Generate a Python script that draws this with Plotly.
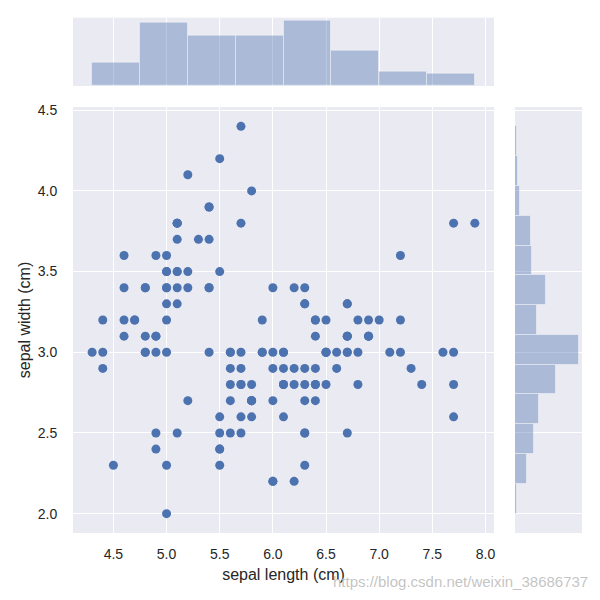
import numpy as np
import plotly.graph_objects as go

sepal_length = [
    5.1,4.9,4.7,4.6,5.0,5.4,4.6,5.0,4.4,4.9,5.4,4.8,4.8,4.3,5.8,5.7,5.4,5.1,5.7,5.1,
    5.4,5.1,4.6,5.1,4.8,5.0,5.0,5.2,5.2,4.7,4.8,5.4,5.2,5.5,4.9,5.0,5.5,4.9,4.4,5.1,
    5.0,4.5,4.4,5.0,5.1,4.8,5.1,4.6,5.3,5.0,
    7.0,6.4,6.9,5.5,6.5,5.7,6.3,4.9,6.6,5.2,5.0,5.9,6.0,6.1,5.6,6.7,5.6,5.8,6.2,5.6,
    5.9,6.1,6.3,6.1,6.4,6.6,6.8,6.7,6.0,5.7,5.5,5.5,5.8,6.0,5.4,6.0,6.7,6.3,5.6,5.5,
    5.5,6.1,5.8,5.0,5.6,5.7,5.7,6.2,5.1,5.7,
    6.3,5.8,7.1,6.3,6.5,7.6,4.9,7.3,6.7,7.2,6.5,6.4,6.8,5.7,5.8,6.4,6.5,7.7,7.7,6.0,
    6.9,5.6,7.7,6.3,6.7,7.2,6.2,6.1,6.4,7.2,7.4,7.9,6.4,6.3,6.1,7.7,6.3,6.4,6.0,6.9,
    6.7,6.9,5.8,6.8,6.7,6.7,6.3,6.5,6.2,5.9,
]
sepal_width = [
    3.5,3.0,3.2,3.1,3.6,3.9,3.4,3.4,2.9,3.1,3.7,3.4,3.0,3.0,4.0,4.4,3.9,3.5,3.8,3.8,
    3.4,3.7,3.6,3.3,3.4,3.0,3.4,3.5,3.4,3.2,3.1,3.4,4.1,4.2,3.1,3.2,3.5,3.6,3.0,3.4,
    3.5,2.3,3.2,3.5,3.8,3.0,3.8,3.2,3.7,3.3,
    3.2,3.2,3.1,2.3,2.8,2.8,3.3,2.4,2.9,2.7,2.0,3.0,2.2,2.9,2.9,3.1,3.0,2.7,2.2,2.5,
    3.2,2.8,2.5,2.8,2.9,3.0,2.8,3.0,2.9,2.6,2.4,2.4,2.7,2.7,3.0,3.4,3.1,2.3,3.0,2.5,
    2.6,3.0,2.6,2.3,2.7,3.0,2.9,2.9,2.5,2.8,
    3.3,2.7,3.0,2.9,3.0,3.0,2.5,2.9,2.5,3.6,3.2,2.7,3.0,2.5,2.8,3.2,3.0,3.8,2.6,2.2,
    3.2,2.8,2.8,2.7,3.3,3.2,2.8,3.0,2.8,3.0,2.8,3.8,2.8,2.8,2.6,3.0,3.4,3.1,3.0,3.1,
    3.1,3.1,2.7,3.2,3.3,3.0,2.5,3.0,3.4,3.0,
]
x_ticks = [4.5, 5.0, 5.5, 6.0, 6.5, 7.0, 7.5, 8.0]
y_ticks = [2.0, 2.5, 3.0, 3.5, 4.0, 4.5]
n_bins_x = 8
n_bins_y = 13

x = np.array(sepal_length)
y = np.array(sepal_width)
cx, ex = np.histogram(x, bins=n_bins_x)
cy, ey = np.histogram(y, bins=n_bins_y)

BLUE = "#4C72B0"
BG = "#EAEAF2"
TXT = "#262626"
FONT = "Liberation Sans, Arial, sans-serif"

fig = go.Figure()
fig.add_trace(go.Scatter(x=x, y=y, mode="markers",
                         marker=dict(color=BLUE, size=9, line=dict(width=0)),
                         xaxis="x", yaxis="y", showlegend=False))
fig.add_trace(go.Bar(x=(ex[:-1] + ex[1:]) / 2, y=cx, width=np.diff(ex),
                     marker=dict(color="rgba(76,114,176,0.4)",
                                 line=dict(color="rgba(255,255,255,0.4)", width=1)),
                     xaxis="x2", yaxis="y2", showlegend=False))
fig.add_trace(go.Bar(y=(ey[:-1] + ey[1:]) / 2, x=cy, width=np.diff(ey), orientation="h",
                     marker=dict(color="rgba(76,114,176,0.4)",
                                 line=dict(color="rgba(255,255,255,0.4)", width=1)),
                     xaxis="x3", yaxis="y3", showlegend=False))

W = 600.0
xr = [4.12, 8.08]
yr = [1.88, 4.52]
main_x = [73 / W, 494 / W]
main_y = [(600 - 533) / W, (600 - 107) / W]
top_y = [(600 - 86) / W, (600 - 17.7) / W]
right_x = [515 / W, 582 / W]

grid = dict(showgrid=True, gridcolor="white", gridwidth=1.3, zeroline=False,
            showline=False)
tickfont = dict(family=FONT, size=14, color=TXT)
titlefont = dict(family=FONT, size=16, color=TXT)

fig.update_layout(
    width=600, height=600,
    margin=dict(l=0, r=0, t=0, b=0),
    paper_bgcolor="white", plot_bgcolor=BG,
    bargap=0,
    xaxis=dict(domain=main_x, range=xr, tickvals=x_ticks, ticktext=[f"{v:.1f}" for v in x_ticks],
               ticks="outside", ticklen=8, tickcolor="rgba(0,0,0,0)", tickfont=tickfont,
               title=dict(text="sepal length (cm)", font=titlefont, standoff=8),
               anchor="y", automargin=False, **grid),
    yaxis=dict(domain=main_y, range=yr, tickvals=y_ticks, ticktext=[f"{v:.1f}" for v in y_ticks],
               ticks="outside", ticklen=12, tickcolor="rgba(0,0,0,0)", tickfont=tickfont,
               title=dict(text="sepal width (cm)", font=titlefont, standoff=3),
               anchor="x", automargin=False, **grid),
    xaxis2=dict(domain=main_x, range=xr, matches="x", tickvals=x_ticks, showticklabels=False,
                anchor="y2", **grid),
    yaxis2=dict(domain=top_y, range=[0, max(cx) * 1.05], showticklabels=False,
                anchor="x2", zeroline=False, showgrid=False, showline=False),
    xaxis3=dict(domain=right_x, range=[0, max(cy) * 1.05], showticklabels=False,
                anchor="y3", zeroline=False, showgrid=False, showline=False),
    yaxis3=dict(domain=main_y, range=yr, matches="y", tickvals=y_ticks, showticklabels=False,
                anchor="x3", **grid),
    annotations=[dict(text="https://blog.csdn.net/weixin_38686737", xref="paper", yref="paper",
                      x=590 / W, y=(600 - 581) / W, xanchor="right", yanchor="middle",
                      showarrow=False,
                      font=dict(family=FONT, size=15, color="rgba(185,185,185,0.85)"))],
)

fig.write_html("out.html")
